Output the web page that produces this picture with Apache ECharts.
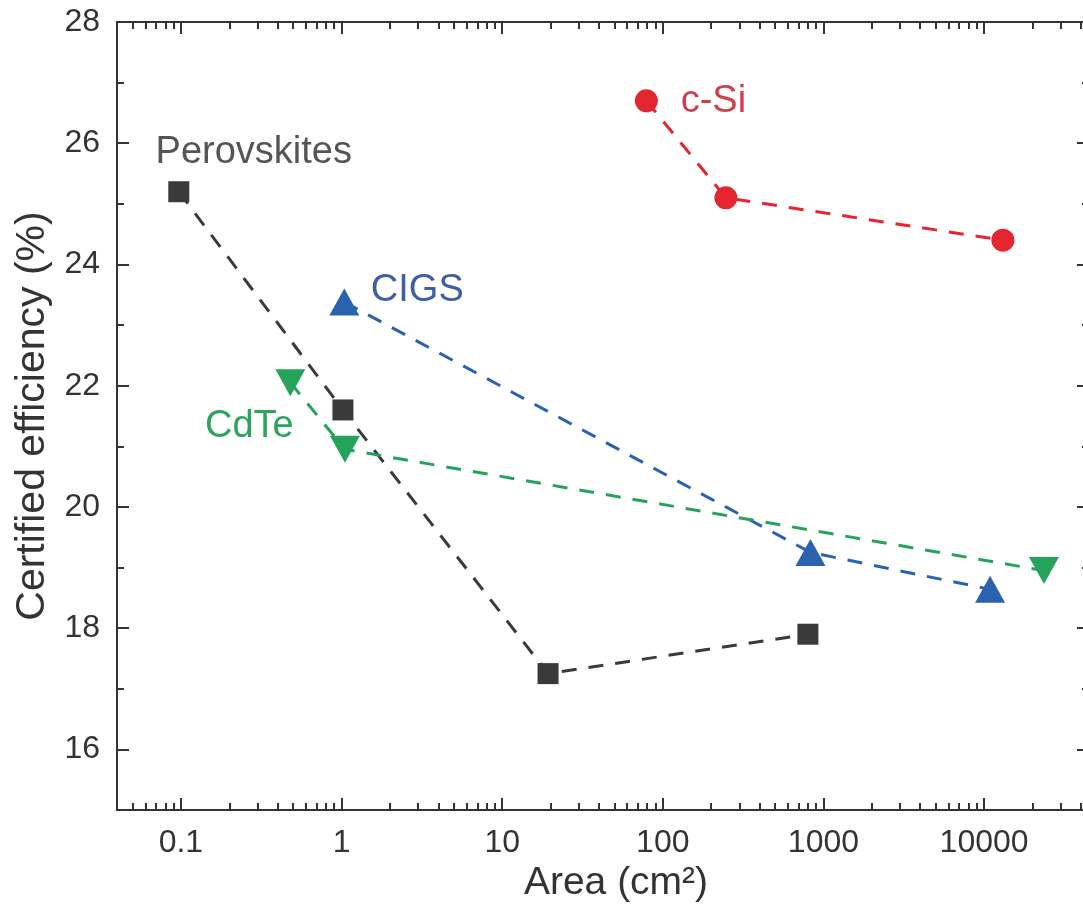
<!DOCTYPE html>
<html>
<head>
<meta charset="utf-8">
<title>Certified efficiency vs area</title>
<script src="https://cdn.jsdelivr.net/npm/echarts@6/dist/echarts.min.js"></script>
<style>
    html, body { margin: 0; padding: 0; background: #fff; }
    #main { width: 1083px; height: 907px; }
</style>
</head>
<body>
<div id="main"></div>
<script>
    // data (area in cm2, efficiency in %)
    var perovArea = [0.097, 1.02, 19.3, 800];
    var perovEff = [25.2, 21.6, 17.25, 17.9];
    var siArea = [79, 247, 13100];
    var siEff = [26.7, 25.1, 24.4];
    var cigsArea = [1.04, 830, 10900];
    var cigsEff = [23.38, 19.25, 18.64];
    var cdteArea = [0.48, 1.05, 23600];
    var cdteEff = [22.05, 20.95, 18.95];

    // ticks
    var xMajor = [0.1, 1, 10, 100, 1000, 10000];
    var xMinor = [0.05, 0.06, 0.07, 0.08, 0.09,
        0.2, 0.3, 0.4, 0.5, 0.6, 0.7, 0.8, 0.9,
        2, 3, 4, 5, 6, 7, 8, 9,
        20, 30, 40, 50, 60, 70, 80, 90,
        200, 300, 400, 500, 600, 700, 800, 900,
        2000, 3000, 4000, 5000, 6000, 7000, 8000, 9000,
        20000, 30000, 40000];
    var xLabels = ['0.1', '1', '10', '100', '1000', '10000'];
    var yMajor = [16, 18, 20, 22, 24, 26, 28];
    var yMinor = [17, 19, 21, 23, 25, 27];

    var font = "'Liberation Sans', Arial, sans-serif";
    var ink = '#333';

    function xAxisOf(pos, ticks, len, main) {
        return {
            type: 'log', logBase: 10, min: 0.04, max: 45000, position: pos,
            axisLine: { show: main, lineStyle: { color: ink, width: 2 } },
            axisTick: { show: true, inside: true, length: len, customValues: ticks,
                lineStyle: { color: ink, width: 2 } },
            axisLabel: { show: main && pos === 'bottom', customValues: ticks, margin: 17,
                fontSize: 32, fontFamily: font, color: ink,
                formatter: function (v) { return xLabels[xMajor.indexOf(+(+v).toPrecision(6))] || ''; } },
            splitLine: { show: false },
            minorTick: { show: false }
        };
    }

    function yAxisOf(pos, ticks, len, main) {
        return {
            type: 'value', min: 15, max: 28, position: pos,
            axisLine: { show: main, lineStyle: { color: ink, width: 2 } },
            axisTick: { show: true, inside: true, length: len, customValues: ticks,
                lineStyle: { color: ink, width: 2 } },
            axisLabel: { show: main && pos === 'left', customValues: ticks, margin: 17,
                fontSize: 32, fontFamily: font, color: ink },
            splitLine: { show: false }
        };
    }

    function seriesOf(name, area, eff, color, symbol, size, rotate, textColor, offset) {
        var data = [];
        for (var i = 0; i < area.length; i++) {
            data.push([area[i], eff[i]]);
        }
        return {
            name: name,
            type: 'line',
            xAxisIndex: 0,
            yAxisIndex: 0,
            data: data,
            symbol: symbol,
            symbolSize: size,
            symbolRotate: rotate,
            itemStyle: { color: color, opacity: 1 },
            lineStyle: { color: color, width: 3, type: [15, 12] },
            label: {
                show: true,
                position: 'inside',
                offset: offset,
                fontSize: 38,
                fontFamily: font,
                color: textColor,
                formatter: function (p) { return p.dataIndex === 0 ? name : ''; }
            }
        };
    }

    var xLine = xAxisOf('bottom', xMajor, 12, true);
    xLine.name = 'Area (cm\u00B2)';
    xLine.nameLocation = 'middle';
    xLine.nameGap = 54;
    xLine.nameTextStyle = { fontSize: 39, fontFamily: font, color: ink, padding: [0, 0, 0, 26] };

    var yLine = yAxisOf('left', yMajor, 12, true);
    yLine.name = 'Certified efficiency (%)';
    yLine.nameLocation = 'middle';
    yLine.nameGap = 62;
    yLine.nameTextStyle = { fontSize: 41, fontFamily: font, color: ink };

    var myChart = echarts.init(document.getElementById('main'));
    myChart.setOption({
        animation: false,
        backgroundColor: '#fff',
        grid: { left: 117, right: -6, top: 22, bottom: 97, outerBoundsMode: 'none', containLabel: false },
        xAxis: [
            xLine,
            xAxisOf('bottom', xMinor, 7, false),
            xAxisOf('top', xMajor, 12, true),
            xAxisOf('top', xMinor, 7, false)
        ],
        yAxis: [
            yLine,
            yAxisOf('left', yMinor, 7, false),
            yAxisOf('right', yMajor, 12, true),
            yAxisOf('right', yMinor, 7, false)
        ],
        series: [
            seriesOf('Perovskites', perovArea, perovEff, '#3a3a3a', 'rect', 21, 0, '#555', [75, -39]),
            seriesOf('c-Si', siArea, siEff, '#e3262f', 'circle', 23, 0, '#d0404c', [67, 1]),
            seriesOf('CIGS', cigsArea, cigsEff, '#2a62b0', 'triangle', [30, 27], 0, '#3f5fa5', [73, -12]),
            seriesOf('CdTe', cdteArea, cdteEff, '#25a35a', 'triangle', [30, 27], 180, '#2ea35e', [-41, 44])
        ]
    });
</script>
</body>
</html>
